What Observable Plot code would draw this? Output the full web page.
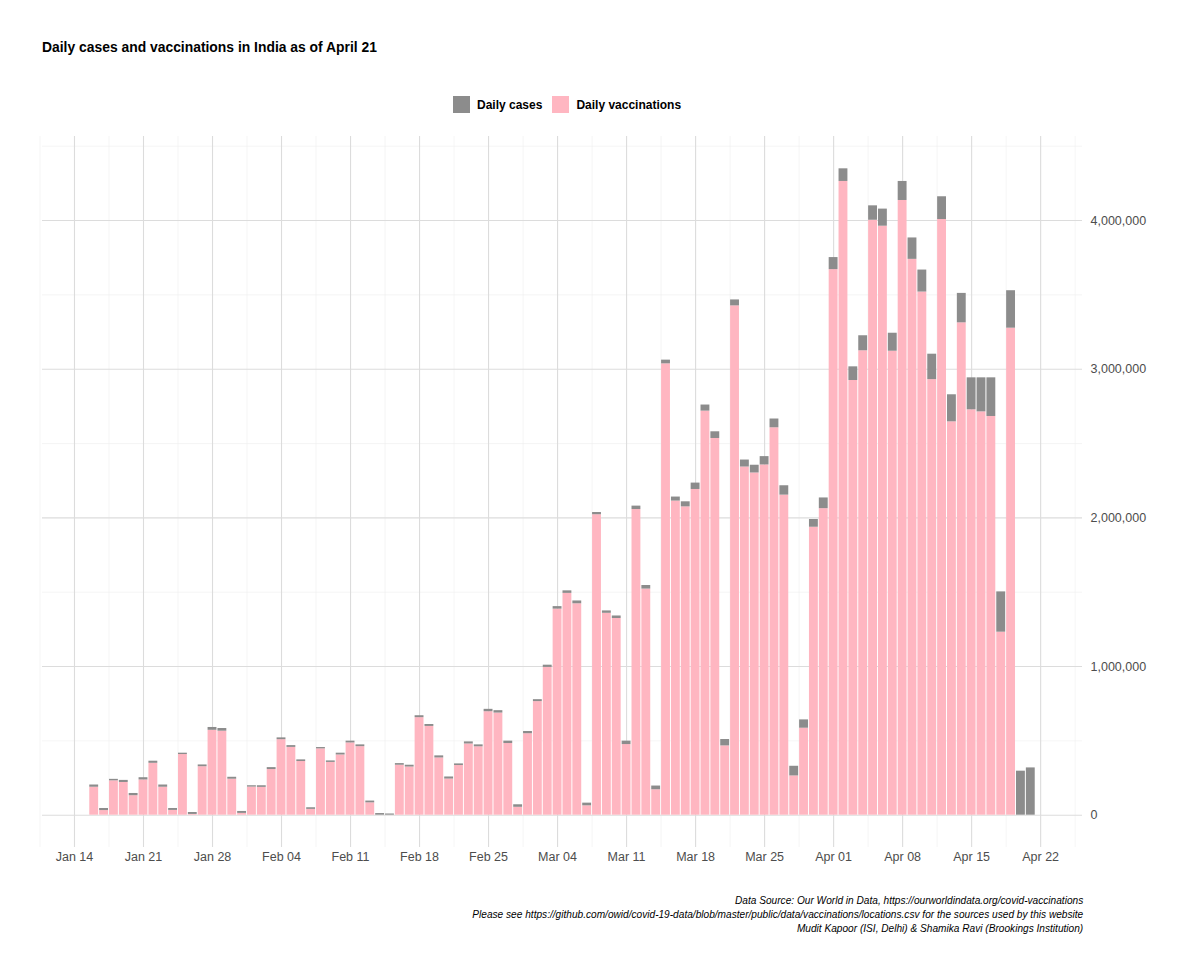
<!DOCTYPE html>
<html><head><meta charset="utf-8">
<script src="https://cdn.jsdelivr.net/npm/d3@7"></script>
<script src="https://cdn.jsdelivr.net/npm/@observablehq/plot@0.6"></script>
<style>
body{margin:0;background:#fff;width:1200px;height:975px;position:relative;font-family:"Liberation Sans Narrow","Arial Narrow","Liberation Sans",Arial,sans-serif;}
#title{position:absolute;left:42px;top:38px;font-weight:bold;font-size:15px;color:#000;transform:scaleX(0.925);transform-origin:left center;white-space:nowrap;}
#legend{position:absolute;top:96px;left:453px;display:flex;align-items:center;font-weight:bold;font-size:12px;color:#000;}
.sw{width:17px;height:17px;display:inline-block;margin-right:7px}
#chart{position:absolute;left:0;top:125px;}
#caption{position:absolute;right:117px;top:893px;text-align:right;font-style:italic;font-size:11.5px;line-height:14px;color:#000;transform:scaleX(0.88);transform-origin:right center;white-space:nowrap;}
</style></head>
<body>
<div id="title">Daily cases and vaccinations in India as of April 21</div>
<div id="legend"><span class="sw" style="background:#8c8c8c"></span><span style="margin-right:10px">Daily cases</span><span class="sw" style="background:#ffb6c1"></span><span>Daily vaccinations</span></div>
<div id="chart"></div>
<div id="caption">Data Source: Our World in Data, https://ourworldindata.org/covid-vaccinations<br>Please see https://github.com/owid/covid-19-data/blob/master/public/data/vaccinations/locations.csv for the sources used by this website<br>Mudit Kapoor (ISI, Delhi) &amp; Shamika Ravi (Brookings Institution)</div>
<script>
// Days: 2021-01-16 .. 2021-04-21
const firstDay = "2021-01-16";
const lastDay = "2021-04-21";
// Daily vaccinations (thousands)
const vaccinationsK = [
  188, 31, 231, 220, 131, 237, 349, 188, 32, 408, 5, 326, 571, 565, 242, 12,
  189, 187, 307, 508, 456, 361, 39, 446, 355, 405, 486, 461, 83, 0, 0, 336,
  324, 656, 597, 385, 243, 334, 479, 460, 696, 687, 482, 53,
  548, 764, 994, 1386, 1492, 1422, 63, 2021, 1358, 1323, 475, 2056, 1521, 171,
  3036, 2113, 2074, 2191, 2718, 2534, 466, 3426, 2342, 2302, 2356, 2606, 2153, 264,
  585, 1937, 2062,
  3670, 4263, 2924, 3124, 4002, 3962, 3121, 4135, 3739, 3519, 2930, 4007, 2646, 3312,
  2727, 2713, 2682, 1231, 3276, 0, 0
];
// Daily cases (thousands)
const casesK = [
  15, 14, 10, 14, 15, 15, 14, 15, 13, 9, 13, 12, 19, 18, 13, 13,
  9, 11, 13, 12, 12, 11, 11, 9, 10, 12, 12, 12, 12, 11, 8, 11,
  12, 13, 13, 14, 14, 11, 14, 13, 16, 16, 16, 17,
  15, 13, 15, 17, 17, 19, 18, 15, 16, 17, 23, 23, 24, 25,
  25, 27, 34, 43, 41, 45, 43, 40, 47, 52, 56, 59, 63, 65,
  56, 52, 72,
  81, 85, 92, 101, 97, 115, 121, 128, 144, 148, 171, 153, 182, 198,
  215, 229, 260, 271, 252, 296, 318
];
const xTickDates = ["2021-01-14","2021-01-21","2021-01-28","2021-02-04","2021-02-11","2021-02-18","2021-02-25",
  "2021-03-04","2021-03-11","2021-03-18","2021-03-25","2021-04-01","2021-04-08","2021-04-15","2021-04-22"];
const yTicks = [0, 1000000, 2000000, 3000000, 4000000];
const yMinorTicks = [500000, 1500000, 2500000, 3500000, 4500000];

const DAY = 864e5;
const days = d3.utcDay.range(new Date(firstDay), d3.utcDay.offset(new Date(lastDay), 1));
const rows = days.map((d, i) => ({
  date: d,
  vacc: vaccinationsK[i] * 1000,
  total: (vaccinationsK[i] + casesK[i]) * 1000
}));
const xMajor = xTickDates.map(s => new Date(s));
const xMinor = [...xMajor.map(d => new Date(+d - 3.5 * DAY)), new Date(+xMajor[xMajor.length - 1] + 3.5 * DAY)];

const half = 0.45 * DAY;
const x0 = +days[0] - half, x1 = +days[days.length - 1] + half;
const xPad = (x1 - x0) * 0.05;
const yMax = d3.max(rows, d => d.total);
const yPad = yMax * 0.05;

const plot = Plot.plot({
  width: 1200,
  height: 745,
  marginLeft: 42,
  marginRight: 118,
  marginTop: 11,
  marginBottom: 23,
  style: {fontFamily: '"Liberation Sans Narrow","Arial Narrow","Liberation Sans",Arial,sans-serif', fontSize: "12.5px", color: "#4d4d4d", background: "#fff"},
  x: {type: "utc", domain: [new Date(x0 - xPad), new Date(x1 + xPad)]},
  y: {domain: [-yPad, yMax + yPad]},
  marks: [
    Plot.ruleY(yMinorTicks, {stroke: "#eeeeee", strokeWidth: 0.6}),
    Plot.ruleX(xMinor, {stroke: "#eeeeee", strokeWidth: 0.6}),
    Plot.ruleY(yTicks, {stroke: "#dcdcdc", strokeWidth: 1.1}),
    Plot.ruleX(xMajor, {stroke: "#dcdcdc", strokeWidth: 1.1}),
    Plot.rectY(rows, {x1: d => new Date(+d.date - half), x2: d => new Date(+d.date + half), y1: 0, y2: "vacc", fill: "#ffb6c1"}),
    Plot.rectY(rows, {x1: d => new Date(+d.date - half), x2: d => new Date(+d.date + half), y1: "vacc", y2: "total", fill: "#8c8c8c"}),
    Plot.axisX({ticks: xMajor, tickFormat: d3.utcFormat("%b %d"), tickSize: 0, tickPadding: 5, label: null}),
    Plot.axisY({anchor: "right", ticks: yTicks, tickFormat: d3.format(","), tickSize: 0, tickPadding: 8, label: null})
  ]
});
document.getElementById("chart").appendChild(plot);
</script>
</body></html>
